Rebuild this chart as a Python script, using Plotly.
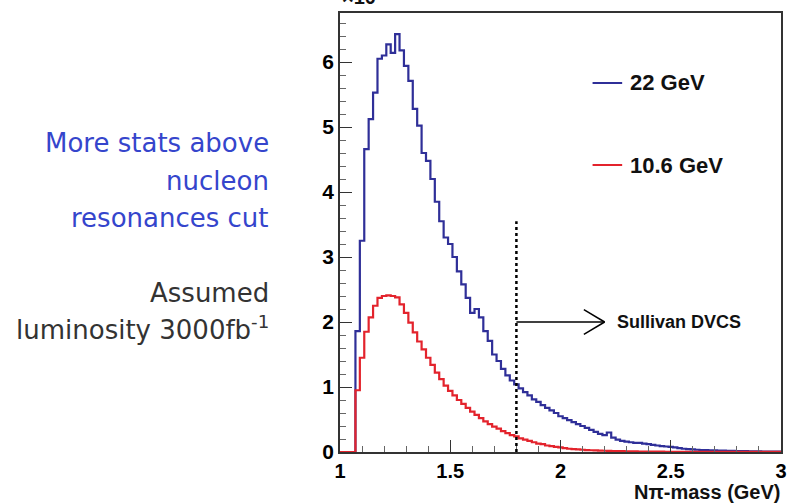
import plotly.graph_objects as go

# ---------------- data ----------------
BIN_START = 1.07
BIN_WIDTH = 0.02
X_MIN, X_MAX = 1.0, 3.0

blue_22GeV = [
    1.86, 3.25, 4.66, 5.12, 5.53, 6.05, 6.10, 6.27, 6.14, 6.43,
    6.18, 5.94, 5.71, 5.28, 5.02, 4.60, 4.48, 4.20, 3.85, 3.55,
    3.30, 3.20, 3.00, 2.78, 2.58, 2.37, 2.14, 2.20, 2.07, 1.86,
    1.71, 1.50, 1.40, 1.28, 1.18, 1.10,
    1.04, 0.98, 0.92, 0.87, 0.81, 0.77, 0.72, 0.68, 0.64, 0.60, 0.55,
    0.52, 0.49, 0.46, 0.43, 0.40, 0.37, 0.34, 0.31, 0.28, 0.26,
    0.30, 0.22, 0.19, 0.17, 0.16, 0.15, 0.14, 0.14, 0.13, 0.12,
    0.11, 0.10, 0.09, 0.085, 0.08, 0.07, 0.06, 0.05, 0.045, 0.04,
    0.035, 0.03, 0.03, 0.025, 0.025, 0.02, 0.02, 0.018, 0.016, 0.015,
    0.013, 0.012, 0.011, 0.010, 0.009, 0.008, 0.007, 0.006, 0.006,
]

red_10_6GeV = [
    0.95, 1.45, 1.85, 2.07, 2.25, 2.37, 2.40, 2.41, 2.40, 2.38,
    2.27, 2.14, 1.99, 1.84, 1.70, 1.58, 1.45, 1.34, 1.22, 1.12,
    1.02, 0.94, 0.87, 0.80, 0.74, 0.68, 0.62, 0.57, 0.52, 0.47,
    0.43, 0.39, 0.36, 0.32, 0.29, 0.26,
    0.24, 0.21, 0.19, 0.17, 0.15, 0.13, 0.12, 0.10, 0.09, 0.08, 0.07,
    0.06, 0.05, 0.045, 0.04, 0.035, 0.03, 0.027, 0.024, 0.021, 0.019,
    0.017, 0.015, 0.013, 0.012, 0.011, 0.010, 0.009, 0.008, 0.007, 0.006,
    0.006, 0.005, 0.005, 0.004, 0.004, 0.004, 0.003, 0.003, 0.003, 0.002,
    0.002, 0.002, 0.002, 0.002, 0.002, 0.002, 0.002, 0.002, 0.002, 0.002,
    0.001, 0.001, 0.001, 0.001, 0.001, 0.001, 0.001, 0.001, 0.001,
]

series_names = ["22 GeV", "10.6 GeV"]
x_ticks = [1, 1.5, 2, 2.5, 3]
y_ticks = [0, 1, 2, 3, 4, 5, 6]
cut_mass = 1.8
cut_line_top = 3.55
arrow_y = 2.0
arrow_end = 2.2
x_title = "N\u03c0-mass (GeV)"
annotation_label = "Sullivan DVCS"
side_text_blue = ["More stats above", "nucleon", "resonances cut"]
side_text_gray = ["Assumed", "luminosity 3000fb<sup>-1</sup>"]

BLUE = "#2f2f98"
RED = "#e3232c"


def step_xy(values):
    xs = [X_MIN]
    ys = [0.0]
    for i, v in enumerate(values):
        xs.append(round(BIN_START + i * BIN_WIDTH, 4))
        ys.append(v)
    xs.append(X_MAX)
    ys.append(values[-1])
    return xs, ys


fig = go.Figure()
for vals, col, name in [(blue_22GeV, BLUE, series_names[0]), (red_10_6GeV, RED, series_names[1])]:
    xs, ys = step_xy(vals)
    fig.add_trace(go.Scatter(x=xs, y=ys, mode="lines", line=dict(color=col, width=2.2, shape="hv"),
                             name=name, showlegend=False, cliponaxis=False))

# plot geometry (pixels)
W, H = 792, 503
L, R, T, B = 340, 5, 13, 51
PW = W - L - R
PH = H - T - B


def px(xp):
    return (xp - L) / PW


def py(yp):
    return (H - B - yp) / PH


tick_font = dict(family="Liberation Sans, Arial, sans-serif", size=21, color="black", weight="bold")
xtick_font = dict(family="Liberation Sans, Arial, sans-serif", size=20, color="black", weight="bold")

fig.update_layout(
    width=W, height=H,
    margin=dict(l=L, r=R, t=T, b=B, pad=0),
    paper_bgcolor="white", plot_bgcolor="white",
    showlegend=False,
    xaxis=dict(range=[X_MIN, X_MAX], tickvals=x_ticks, ticks="inside", ticklen=12, tickwidth=1,
               tickcolor="#333", showgrid=False, zeroline=False, showline=True, linecolor="#333",
               linewidth=1.5, mirror=True, tickfont=xtick_font,
               minor=dict(dtick=0.1, ticks="inside", ticklen=6, tickcolor="#666", showgrid=False)),
    yaxis=dict(range=[0, (H - B - T) / 65.0], tickvals=y_ticks, ticks="inside", ticklen=12, tickwidth=1,
               tickcolor="#333", showgrid=False, zeroline=False, showline=True, linecolor="#333",
               linewidth=1.5, mirror=True, tickfont=tick_font,
               minor=dict(dtick=0.2, ticks="inside", ticklen=6, tickcolor="#666", showgrid=False)),
)

# dotted cut line and arrow
fig.add_shape(type="line", x0=cut_mass, x1=cut_mass, y0=0, y1=cut_line_top, xref="x", yref="y",
              line=dict(color="black", width=2.5, dash="dot"))
fig.add_shape(type="line", x0=cut_mass, x1=arrow_end, y0=arrow_y, y1=arrow_y, xref="x", yref="y",
              line=dict(color="black", width=1.5))
fig.add_shape(type="line", x0=arrow_end - 0.094, x1=arrow_end, y0=arrow_y + 0.19, y1=arrow_y,
              xref="x", yref="y", line=dict(color="black", width=1.5))
fig.add_shape(type="line", x0=arrow_end - 0.094, x1=arrow_end, y0=arrow_y - 0.19, y1=arrow_y,
              xref="x", yref="y", line=dict(color="black", width=1.5))
fig.add_annotation(x=arrow_end + 0.045, y=arrow_y, xref="x", yref="y", text=annotation_label,
                   showarrow=False, xanchor="left", yanchor="middle",
                   font=dict(family="Liberation Sans, Arial, sans-serif", size=18, color="#111", weight="bold"))

# legend (manual)
for (name, col, yp) in [(series_names[0], BLUE, 83), (series_names[1], RED, 165)]:
    fig.add_shape(type="line", x0=px(596), x1=px(626), y0=py(yp), y1=py(yp), xref="paper", yref="paper",
                  line=dict(color=col, width=2))
    fig.add_annotation(x=px(632), y=py(yp), xref="paper", yref="paper", text=name, showarrow=False,
                       xanchor="left", yanchor="middle",
                       font=dict(family="Liberation Sans, Arial, sans-serif", size=22, color="#111", weight="bold"))

# x axis title
fig.add_annotation(x=1.0, y=py(492), xref="paper", yref="paper", text=x_title, showarrow=False,
                   xanchor="right", yanchor="middle", borderpad=0,
                   font=dict(family="Liberation Sans, Arial, sans-serif", size=20, color="#111", weight="bold"))

# clipped y-axis exponent at top
fig.add_annotation(x=px(340), y=py(-4), xref="paper", yref="paper", text="\u00d710<sup>3</sup>",
                   showarrow=False, xanchor="left", yanchor="middle",
                   font=dict(family="Liberation Sans, Arial, sans-serif", size=20, color="#111", weight="bold"))

# side text
side_font = "DejaVu Sans, Liberation Sans, sans-serif"
for txt, yp in zip(side_text_blue, [143, 181, 218]):
    fig.add_annotation(x=px(270), y=py(yp), xref="paper", yref="paper", text=txt, showarrow=False,
                       xanchor="right", yanchor="middle",
                       font=dict(family=side_font, size=26, color="#3545cc"))
for txt, yp in zip(side_text_gray, [293, 328]):
    fig.add_annotation(x=px(270), y=py(yp), xref="paper", yref="paper", text=txt, showarrow=False,
                       xanchor="right", yanchor="middle",
                       font=dict(family=side_font, size=26, color="#333333"))

fig.write_html("out.html")
